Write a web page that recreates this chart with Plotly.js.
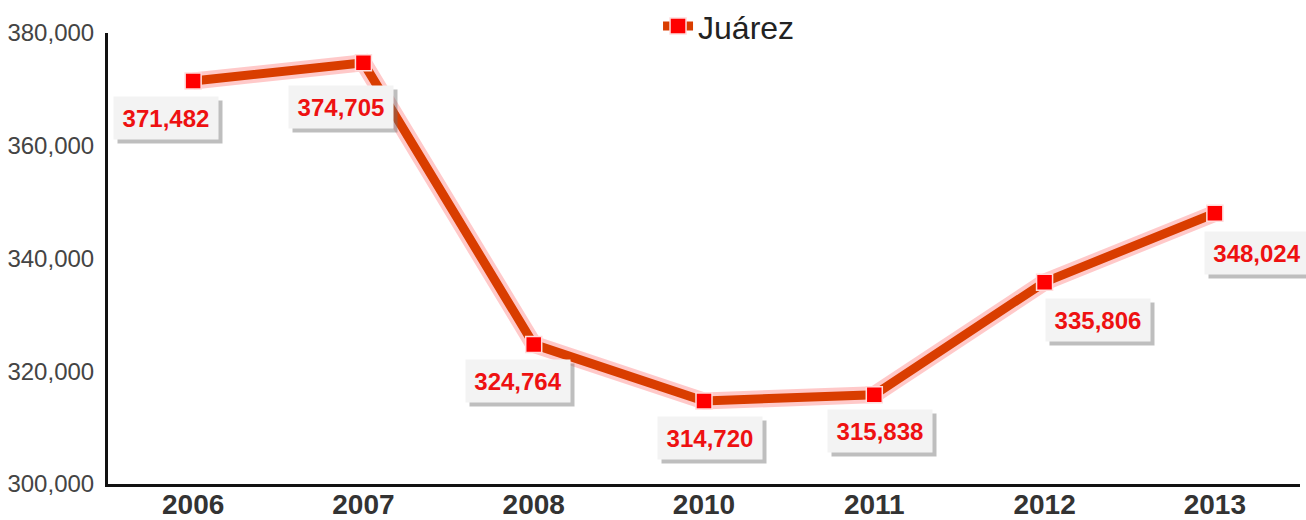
<!DOCTYPE html>
<html><head><meta charset="utf-8">
<script src="https://cdn.plot.ly/plotly-3.0.1.min.js"></script>
<style>html,body{margin:0;padding:0;background:#fff}#c{width:1306px;height:520px}</style>
</head><body><div id="c"></div>
<script>
const years = ['2006','2007','2008','2010','2011','2012','2013'];
const values = [371482, 374705, 324764, 314720, 315838, 335806, 348024];
const seriesName = 'Juárez';
const labelOffsets = [[-27,37],[-22,44],[-16,37],[6,37],[6,36],[53,38],[42,40]];

const fmt = v => v.toLocaleString('en-US');
const glow = {x: years, y: values, type:'scatter', mode:'lines', showlegend:false, hoverinfo:'skip',
  line:{color:'rgba(255,165,165,0.6)', width:17}};
const main = {x: years, y: values, type:'scatter', mode:'lines+markers', name: seriesName,
  line:{color:'#d93d00', width:9},
  marker:{symbol:'square', size:16, color:'#ff0000', line:{color:'rgba(255,220,220,1)', width:1.5}}};

const ann = [];
years.forEach((yr,i)=>{
  const [ax,ay] = labelOffsets[i];
  ann.push({x:i, y:values[i], xref:'x', yref:'y', text:' ', showarrow:true, arrowcolor:'rgba(0,0,0,0)',
    ax:ax+4, ay:ay+4, width:94, height:32, bgcolor:'rgba(110,110,110,0.45)', borderpad:5,
    font:{family:'Liberation Sans, Arial, sans-serif', size:24, color:'rgba(0,0,0,0)'}});
  ann.push({x:i, y:values[i], xref:'x', yref:'y', text:'<b>'+fmt(values[i])+'</b>', showarrow:true, arrowcolor:'rgba(0,0,0,0)',
    ax:ax, ay:ay, width:94, height:32, bgcolor:'#f3f3f3', borderpad:5,
    font:{family:'Liberation Sans, Arial, sans-serif', size:24, color:'#ee1111'}});
});

const layout = {
  width:1306, height:520, margin:{l:108, r:6, t:33, b:36, autoexpand:false},
  paper_bgcolor:'#fff', plot_bgcolor:'#fff',
  font:{family:'Liberation Sans, Arial, sans-serif'},
  xaxis:{type:'category', range:[-0.5,6.5], showgrid:false, zeroline:false, showline:true, linecolor:'#111', linewidth:3,
    ticks:'', ticklabelstandoff:-7, tickfont:{size:28, color:'#333', weight:'bold'}, automargin:false},
  yaxis:{range:[300000,380000], tickvals:[300000,320000,340000,360000,380000], tickformat:',d', showgrid:false, zeroline:false,
    showline:true, linecolor:'#111', linewidth:3, ticks:'', ticklabelstandoff:6, tickfont:{size:24, color:'#444'}, automargin:false},
  showlegend:true,
  legend:{orientation:'h', x:0.521, xanchor:'center', y:1.015, yanchor:'middle', font:{size:32, color:'#222'}},
  annotations: ann
};
Plotly.newPlot('c', [glow, main], layout, {staticPlot:true});
</script></body></html>
